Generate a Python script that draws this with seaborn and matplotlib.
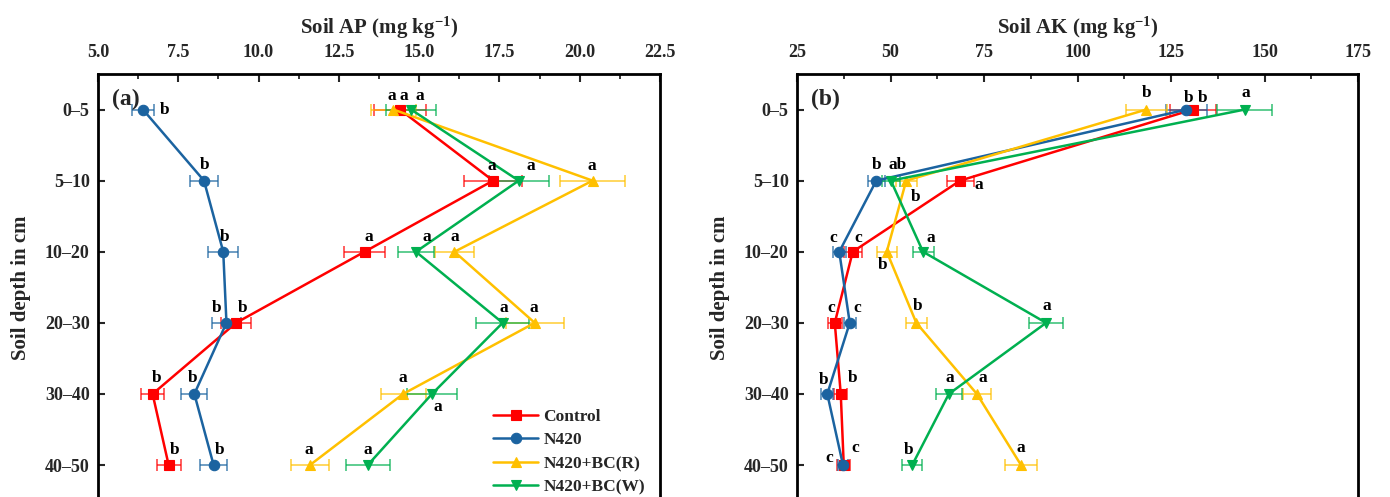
import numpy as np
import pandas as pd
import matplotlib
matplotlib.use("Agg")
import matplotlib.pyplot as plt
from matplotlib.ticker import MultipleLocator
import seaborn as sns

# ---------------- data ----------------
depths = ["0–5", "5–10", "10–20", "20–30", "30–40", "40–50"]
series = ["Control", "N420", "N420+BC(R)", "N420+BC(W)"]

# Soil AP (mg kg-1)
ap_control = [14.4, 17.3, 13.3, 9.3, 6.7, 7.2]
ap_control_se = [0.8, 0.9, 0.65, 0.47, 0.35, 0.37]
ap_n420 = [6.4, 8.3, 8.9, 9.0, 8.0, 8.6]
ap_n420_se = [0.33, 0.43, 0.46, 0.46, 0.40, 0.41]
ap_bcr = [14.2, 20.4, 16.1, 18.6, 14.5, 11.6]
ap_bcr_se = [0.69, 1.0, 0.6, 0.9, 0.7, 0.58]
ap_bcw = [14.75, 18.1, 14.9, 17.6, 15.4, 13.4]
ap_bcw_se = [0.78, 0.94, 0.55, 0.83, 0.78, 0.68]

ap_control_sig = ["a", "a", "a", "b", "b", "b"]
ap_n420_sig = ["b", "b", "b", "b", "b", "b"]
ap_bcr_sig = ["a", "a", "a", "a", "a", "a"]
ap_bcw_sig = ["a", "a", "a", "a", "a", "a"]

# Soil AK (mg kg-1)
ak_control = [130.8, 68.6, 39.9, 35.1, 36.7, 37.5]
ak_control_se = [6.2, 3.6, 2.4, 1.8, 1.8, 1.8]
ak_n420 = [129.1, 46.2, 36.3, 39.1, 33.1, 37.3]
ak_n420_se = [5.4, 2.2, 1.8, 1.6, 1.6, 1.4]
ak_bcr = [118.4, 54.2, 49.0, 56.9, 73.1, 84.9]
ak_bcr_se = [5.5, 2.8, 2.7, 2.8, 3.7, 4.2]
ak_bcw = [144.7, 50.1, 58.7, 91.6, 65.6, 55.8]
ak_bcw_se = [7.3, 2.5, 2.8, 4.6, 3.5, 2.7]

ak_control_sig = ["b", "a", "c", "c", "b", "c"]
ak_n420_sig = ["b", "b", "c", "c", "b", "c"]
ak_bcr_sig = ["b", "b", "b", "b", "a", "a"]
ak_bcw_sig = ["a", "ab", "a", "a", "a", "b"]

# ---------------- styling / placement (pixels, y down) ----------------
colors = ["#ff0000", "#1b63a0", "#ffc000", "#00b050"]
markers = ["s", "o", "^", "v"]

ap_offsets = [
    [(4, -14), (-1, -15), (4, -15), (7, -15), (4, -16), (6, -15)],
    [(22, 0), (1, -16), (1, -15), (-10, -15), (-2, -16), (6, -15)],
    [(-2, -14), (-1, -15), (0, -15), (-1, -15), (0, -16), (-1, -15)],
    [(9, -14), (12, -15), (11, -15), (1, -15), (6, 13), (0, -15)],
]
ak_offsets = [
    [(10, -12), (19, 4), (6, -14), (-4, -15), (12, -16), (11, -17)],
    [(2, -12), (0, -16), (-6, -14), (8, -15), (-4, -14), (-14, -7)],
    [(0, -17), (9, 16), (-4, 13), (1, -17), (6, -16), (0, -17)],
    [(1, -17), (7, -16), (8, -14), (1, -17), (1, -16), (-4, -15)],
]

sns.set_style("white")
plt.rcParams["font.family"] = ["Liberation Serif", "DejaVu Serif"]
plt.rcParams["font.weight"] = "bold"
plt.rcParams["axes.labelweight"] = "bold"
plt.rcParams["mathtext.fontset"] = "custom"
plt.rcParams["mathtext.rm"] = "Liberation Serif:bold"
plt.rcParams["mathtext.it"] = "Liberation Serif:bold"
plt.rcParams["mathtext.bf"] = "Liberation Serif:bold"
plt.rcParams["mathtext.default"] = "rm"

W, H = 1390, 497
fig = plt.figure(figsize=(W / 100, H / 100), dpi=100)

top_px, bot_px = 74, 500.6
ax1 = fig.add_axes([98 / W, 1 - bot_px / H, (660 - 98) / W, (bot_px - top_px) / H])
ax2 = fig.add_axes([797 / W, 1 - bot_px / H, (1358 - 797) / W, (bot_px - top_px) / H])

pos = np.arange(len(depths))


def panel(ax, vals, errs, sigs, offs, xlim, major, xlabel, tag, legend):
    for i, name in enumerate(series):
        df = pd.DataFrame({"value": vals[i], "depth": pos})
        sns.lineplot(data=df, x="value", y="depth", ax=ax, color=colors[i],
                     marker=markers[i], markersize=7.5, markeredgecolor=colors[i],
                     markeredgewidth=0.8, linewidth=1.8, sort=False, orient="y",
                     estimator=None, label=name, legend=legend, zorder=3)
        ax.errorbar(vals[i], pos, xerr=errs[i], fmt="none", ecolor=colors[i],
                    elinewidth=1.1, capsize=4, capthick=1.1, alpha=0.8, zorder=2)
        for j in range(len(depths)):
            dx, dy = offs[i][j]
            ax.annotate(sigs[i][j], (vals[i][j], pos[j]), xytext=(dx, -dy),
                        textcoords="offset pixels", ha="center", va="center",
                        fontsize=12.5, fontweight="bold", color="black", zorder=5)
    ax.set_xlim(*xlim)
    ax.set_ylim(len(depths) - 0.5, -0.5)
    ax.set_yticks(pos)
    ax.set_yticklabels(depths)
    ax.xaxis.set_major_locator(MultipleLocator(major))
    ax.xaxis.set_minor_locator(MultipleLocator(major / 2))
    ax.xaxis.tick_top()
    ax.xaxis.set_label_position("top")
    ax.tick_params(axis="x", which="major", direction="in", length=6, width=1.5,
                   top=True, bottom=False, labelsize=13, pad=9)
    ax.tick_params(axis="x", which="minor", direction="in", length=3.5, width=1.3,
                   top=True, bottom=False)
    ax.tick_params(axis="y", which="major", direction="in", length=5, width=1.5,
                   left=True, right=False, labelsize=13, pad=6)
    for lab in ax.get_xticklabels() + ax.get_yticklabels():
        lab.set_fontweight("bold")
    if major < 5:
        ax.xaxis.set_major_formatter(matplotlib.ticker.FormatStrFormatter("%.1f"))
    ax.set_xlabel(xlabel, fontsize=15, fontweight="bold", labelpad=8)
    ax.set_ylabel("Soil depth in cm", fontsize=15, fontweight="bold", labelpad=10)
    for s in ax.spines.values():
        s.set_linewidth(2)
        s.set_color("black")
    ax.text(0.025, 0.94, tag, transform=ax.transAxes, fontsize=17,
            fontweight="bold", ha="left", va="center")
    ax.grid(False)


panel(ax1, [ap_control, ap_n420, ap_bcr, ap_bcw],
      [ap_control_se, ap_n420_se, ap_bcr_se, ap_bcw_se],
      [ap_control_sig, ap_n420_sig, ap_bcr_sig, ap_bcw_sig], ap_offsets,
      (5.0, 22.5), 2.5, r"Soil AP (mg kg$^{-1}$)", "(a)", True)
panel(ax2, [ak_control, ak_n420, ak_bcr, ak_bcw],
      [ak_control_se, ak_n420_se, ak_bcr_se, ak_bcw_se],
      [ak_control_sig, ak_n420_sig, ak_bcr_sig, ak_bcw_sig], ak_offsets,
      (25, 175), 25, r"Soil AK (mg kg$^{-1}$)", "(b)", False)

ax1.legend(loc="upper left", bbox_to_anchor=(0.703, 0.215), frameon=False,
           handlelength=2.6, handletextpad=0.3, labelspacing=0.42,
           borderpad=0, borderaxespad=0, prop={"weight": "bold", "size": 12.5})

fig.savefig("out.png", dpi=100)
